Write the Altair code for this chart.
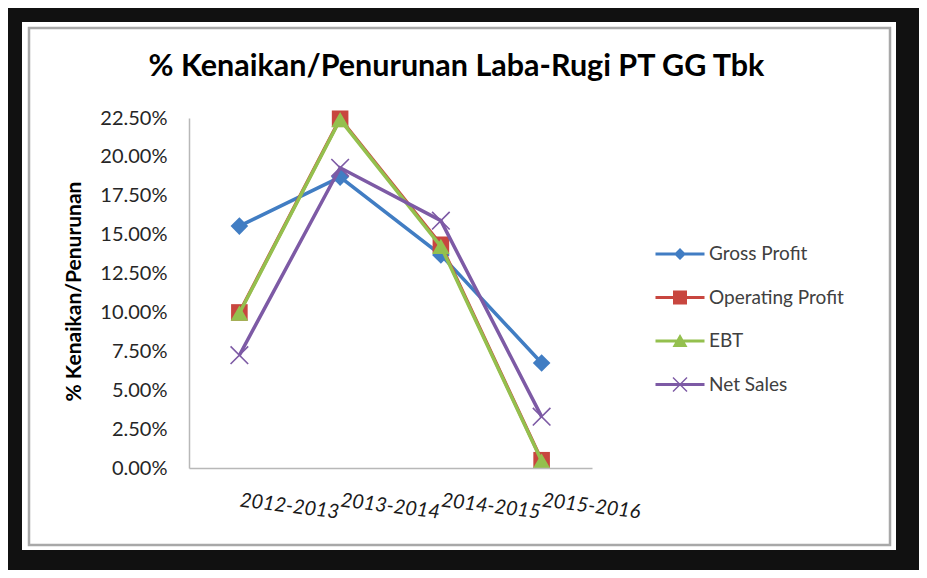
import altair as alt
import pandas as pd

# ---- data (percent) ----
periods = ["2012-2013", "2013-2014", "2014-2015", "2015-2016"]
series_names = ["Gross Profit", "Operating Profit", "EBT", "Net Sales"]
gross_profit = [15.55, 18.70, 13.70, 6.75]
operating_profit = [10.00, 22.45, 14.35, 0.50]
ebt = [9.95, 22.40, 14.25, 0.45]
net_sales = [7.25, 19.30, 15.90, 3.30]
y_tick_values = [0.0, 2.5, 5.0, 7.5, 10.0, 12.5, 15.0, 17.5, 20.0, 22.5]
chart_title = "% Kenaikan/Penurunan Laba-Rugi PT GG Tbk"
y_axis_title = "% Kenaikan/Penurunan"

# ---- styles ----
colors = ["#417DC3", "#C8463F", "#94C04E", "#7D5AA5"]
FONT = "Lato"

rows = []
for name, vals in zip(series_names, [gross_profit, operating_profit, ebt, net_sales]):
    for p, v in zip(periods, vals):
        rows.append({"period": p, "series": name, "value": v / 100.0})
df = pd.DataFrame(rows)

x_enc = alt.X(
    "period:N",
    sort=periods,
    scale=alt.Scale(domain=periods, padding=0.5),
    axis=alt.Axis(
        title=None,
        labelAngle=7,
        labelAlign="left",
        labelBaseline="middle",
        labelFont=FONT,
        labelFontSize=20,
        labelFontStyle="italic",
        labelColor="#1a1a1a",
        labelPadding=32,
        labelOverlap=False,
        labelBound=False,
        labelFlush=False,
        ticks=False,
        tickSize=0,
        grid=False,
        domainColor="#b8b8b8",
        domainWidth=1.5,
        zindex=1,
    ),
)
y_enc = alt.Y(
    "value:Q",
    scale=alt.Scale(domain=[0, 0.225], nice=False, zero=True),
    axis=alt.Axis(
        title=y_axis_title,
        values=[v / 100.0 for v in y_tick_values],
        format=".2%",
        labelFont=FONT,
        labelFontSize=20,
        labelColor="#262626",
        labelPadding=22,
        ticks=False,
        tickSize=0,
        grid=False,
        domainColor="#b8b8b8",
        domainWidth=1.5,
        titleFont=FONT,
        titleFontSize=21,
        titleFontWeight="bold",
        titleColor="#000000",
        titleAngle=270,
        titleAlign="center",
        titleBaseline="middle",
        titleX=-115,
        titleY=173,
        zindex=1,
    ),
)
color_scale = alt.Scale(domain=series_names, range=colors)
color_enc = alt.Color("series:N", scale=color_scale, legend=None)

# ---- frame (white card with grey border on black) ----
one = alt.Data(values=[{"k": 1}])
card = alt.Chart(one).mark_rect(fill="white").encode(
    x=alt.value(-167), x2=alt.value(707), y=alt.value(-96), y2=alt.value(432)
)
border = alt.Chart(one).mark_rect(fillOpacity=0, stroke="#a8a8a8", strokeWidth=2.5).encode(
    x=alt.value(-160), x2=alt.value(701), y=alt.value(-90), y2=alt.value(427)
)

# ---- series: line + markers, drawn series by series ----
marker_styles = [
    dict(shape="diamond", filled=True, size=310),
    dict(shape="square", filled=True, size=275),
    dict(shape="triangle-up", filled=True, size=310),
    dict(shape="M-1,-1L1,1M-1,1L1,-1", filled=False, size=310, strokeWidth=1.6),
]
base = alt.Chart(df)
series_layers = []
for name, st in zip(series_names, marker_styles):
    sub = base.transform_filter(alt.datum.series == name)
    series_layers.append(
        sub.mark_line(strokeWidth=3.5).encode(x=x_enc, y=y_enc, color=color_enc)
    )
    series_layers.append(
        sub.mark_point(opacity=1, **st).encode(x=x_enc, y=y_enc, color=color_enc)
    )

# ---- legend (line with marker symbols) ----
legend_paths = [
    "M-2.45,-0.16H2.45V0.16H-2.45Z M0,-0.6L0.6,0L0,0.6L-0.6,0Z",
    "M-2.45,-0.16H2.45V0.16H-2.45Z M-0.7,-0.7H0.7V0.7H-0.7Z",
    "M-2.45,-0.16H2.45V0.16H-2.45Z M0,-0.7L0.75,0.6H-0.75Z",
    "M-2.45,-0.16H2.45V0.16H-2.45Z M-0.75,-0.65L-0.65,-0.75L0.75,0.65L0.65,0.75Z M-0.75,0.65L0.65,-0.75L0.75,-0.65L-0.65,0.75Z",
]
legend_layer = base.transform_filter("false").mark_point(filled=True, opacity=1).encode(
    color=alt.Color(
        "series:N",
        scale=color_scale,
        legend=alt.Legend(
            title=None,
            orient="none",
            legendX=481,
            legendY=126,
            direction="vertical",
            symbolSize=400,
            symbolStrokeWidth=0,
            labelFont=FONT,
            labelFontSize=19,
            labelColor="#404040",
            labelOffset=19,
            rowPadding=23.5,
            padding=0,
            labelLimit=300,
        ),
    ),
    shape=alt.Shape("series:N", scale=alt.Scale(domain=series_names, range=legend_paths)),
)

chart = (
    alt.layer(card, border, legend_layer, *series_layers)
    .properties(
        width=403,
        height=350,
        padding={"left": 181, "top": 110, "right": 327, "bottom": 102},
        autosize=alt.AutoSizeParams(type="none"),
        background="#111111",
        title=alt.TitleParams(
            text=chart_title,
            font=FONT,
            fontSize=30.5,
            fontWeight="bold",
            color="#000000",
            anchor="middle",
            frame="group",
            baseline="alphabetic",
            offset=-84,
            dx=66,
        ),
    )
    .configure_view(strokeWidth=0)
)

chart.save("out.html", embed_options={"renderer": "svg", "actions": False})
